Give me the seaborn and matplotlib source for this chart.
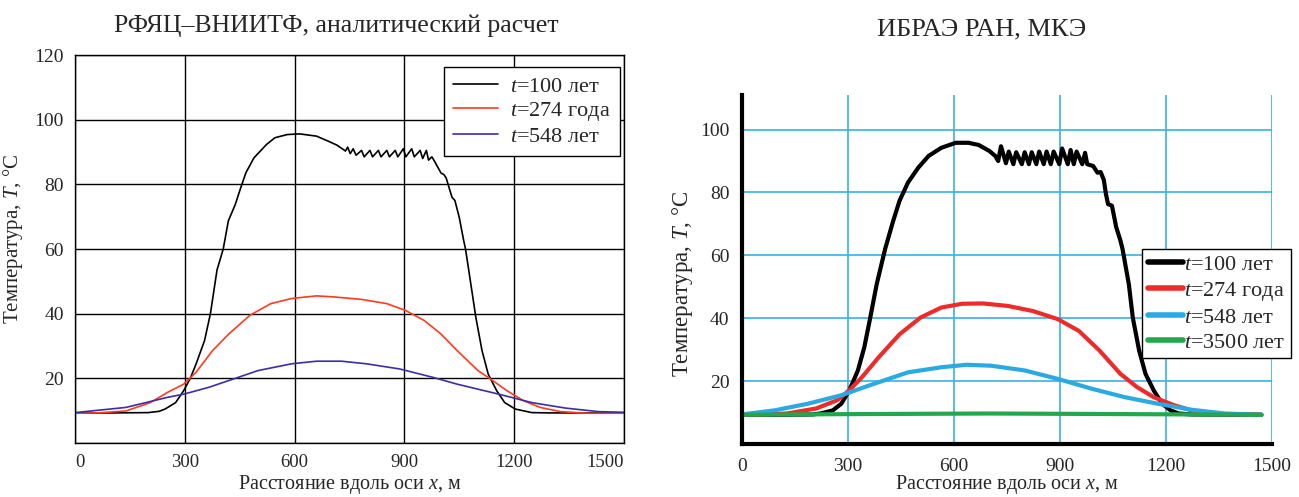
import matplotlib
matplotlib.use('Agg')
import matplotlib.pyplot as plt
import seaborn as sns
import pandas as pd
from matplotlib.ticker import MultipleLocator

sns.set_style('white')
plt.rcParams['font.family'] = ['Liberation Serif', 'DejaVu Serif']
plt.rcParams['mathtext.fontset'] = 'custom'
plt.rcParams['mathtext.rm'] = 'Liberation Serif'
plt.rcParams['mathtext.it'] = 'Liberation Serif:italic'

# ---------------- Left panel data (РФЯЦ–ВНИИТФ) ----------------
left_t100_x = [0, 100, 200, 230, 246, 275, 297, 315, 331, 354, 370, 388, 405, 419, 438, 453, 467, 489,
               523, 546, 580, 614, 660, 693, 716, 739,
               745, 752, 760, 768, 783, 790, 806, 813, 829, 836, 852, 859, 875, 882, 897, 904,
               920, 927, 943, 950, 960, 966, 975, 982,
               1000, 1008, 1014, 1022, 1030, 1038, 1050, 1062, 1067, 1084, 1095, 1112, 1129,
               1152, 1174, 1203, 1248, 1300, 1500]
left_t100_y = [9.3, 9.3, 9.4, 9.8, 10.5, 12.5, 16.2, 20.0, 24.5, 31.7, 40.0, 53.5, 60.0, 68.7, 73.8, 79.0, 83.6, 88.2,
               92.3, 94.4, 95.4, 95.6, 94.9, 93.3, 92.1, 90.3,
               91.5, 89.5, 91.0, 89.0, 90.5, 88.5, 90.5, 88.5, 90.5, 88.5, 90.5, 88.5, 90.5, 88.5, 91.0, 88.5,
               91.0, 88.5, 90.5, 88.0, 90.5, 87.5, 88.5, 87.2,
               83.5, 83.0, 82.0, 79.0, 76.0, 75.0, 69.7, 62.6, 60.0, 47.3, 39.0, 28.6, 21.3,
               16.2, 12.5, 10.5, 9.4, 9.3, 9.3]

left_t274_x = [0, 60, 139, 206, 252, 297, 331, 376, 421, 478, 535, 592, 660, 705, 784, 852, 903, 954,
               999, 1044, 1101, 1135, 1180, 1225, 1271, 1327, 1400, 1500]
left_t274_y = [9.2, 9.3, 9.9, 12.5, 15.6, 18.2, 21.9, 28.6, 33.8, 39.5, 43.1, 44.7, 45.5, 45.2, 44.4, 43.1, 41.0, 37.9,
               33.8, 28.6, 22.4, 19.8, 16.2, 13.1, 11.0, 9.7, 9.2, 9.2]

left_t548_x = [0, 139, 252, 297, 365, 433, 500, 592, 660, 728, 796, 887, 978, 1044, 1158, 1248, 1340, 1431, 1500]
left_t548_y = [9.4, 11.0, 14.1, 15.1, 17.2, 19.8, 22.4, 24.5, 25.3, 25.3, 24.5, 22.9, 20.3, 18.2, 15.1, 12.5, 10.8, 9.7, 9.5]

# ---------------- Right panel data (ИБРАЭ РАН) ----------------
right_t100_x = [0, 100, 200, 222, 257, 281, 304, 328, 346, 363, 381, 405, 428, 446, 470, 499, 528, 564,
                605, 641, 670, 700, 717,
                725, 733, 747, 755, 768, 776, 792, 800, 812, 820, 833, 841, 854, 862, 874, 882,
                898, 906, 922, 930, 939, 947, 963, 971,
                977, 994, 1006, 1015, 1024, 1030, 1036, 1047, 1059, 1071, 1077, 1095, 1106, 1124,
                1142, 1165, 1189, 1213, 1236, 1272, 1470]
right_t100_y = [9.3, 9.3, 9.4, 9.7, 10.7, 12.8, 17.1, 23.4, 30.7, 40.2, 50.7, 62.0, 71.0, 77.4, 83.2, 87.9, 91.6, 94.2,
                95.8, 95.8, 95.1, 93.2, 91.6,
                90.0, 94.7, 89.3, 93.0, 89.0, 92.8, 89.0, 92.8, 89.0, 92.8, 89.0, 93.0, 89.0, 93.0, 89.0, 93.0,
                89.0, 94.0, 89.0, 93.5, 89.0, 93.0, 89.0, 92.6,
                89.0, 88.4, 86.3, 86.5, 84.0, 79.5, 76.3, 75.8, 69.0, 64.7, 62.0, 50.7, 40.2, 29.7,
                22.3, 17.1, 12.8, 10.7, 9.7, 9.4, 9.3]

right_t274_x = [0, 60, 127, 210, 269, 304, 340, 387, 446, 505, 564, 623, 682, 753, 823, 894, 953, 1012,
                1071, 1118, 1165, 1224, 1272, 1331, 1400, 1470]
right_t274_y = [9.4, 9.4, 9.7, 11.3, 13.9, 17.1, 21.3, 27.6, 34.9, 40.2, 43.4, 44.6, 44.7, 43.9, 42.3, 39.7, 36.0, 29.7,
                22.3, 18.1, 14.9, 12.3, 10.7, 9.7, 9.4, 9.3]

right_t548_x = [0, 92, 186, 281, 375, 470, 564, 635, 705, 800, 894, 989, 1083, 1177, 1272, 1366, 1470]
right_t548_y = [9.4, 10.7, 12.8, 15.5, 19.2, 22.8, 24.4, 25.2, 24.9, 23.4, 20.7, 17.6, 14.9, 12.8, 10.9, 9.7, 9.3]

right_t3500_x = [0, 300, 700, 1100, 1470]
right_t3500_y = [9.3, 9.5, 9.7, 9.5, 9.3]

left_labels = ['$t$=100 лет', '$t$=274 года', '$t$=548 лет']
right_labels = ['$t$=100 лет', '$t$=274 года', '$t$=548 лет', '$t$=3500 лет']
x_ticks = [0, 300, 600, 900, 1200, 1500]
left_y_ticks = [0, 20, 40, 60, 80, 100, 120]
right_y_ticks = [0, 20, 40, 60, 80, 100]

left_colors = ['#000000', '#ff3a1f', '#3b2ea6']
right_colors = ['#000000', '#ee2b2b', '#2aa9e2', '#22a84a']

W, H = 1299, 497
fig = plt.figure(figsize=(W / 100, H / 100), dpi=100)
ax1 = fig.add_axes([75 / W, (H - 443) / H, 549 / W, 388 / H])
ax2 = fig.add_axes([742 / W, (H - 444) / H, 530 / W, 349 / H])

FS = 14

# ---- left ----
for xs, ys, lab, c in zip([left_t100_x, left_t274_x, left_t548_x],
                          [left_t100_y, left_t274_y, left_t548_y], left_labels, left_colors):
    sns.lineplot(x=xs, y=ys, ax=ax1, color=c, lw=1.2, label=lab, sort=False, estimator=None)
ax1.set_xlim(0, 1500)
ax1.set_ylim(0, 120)
ax1.set_xticks(x_ticks)
ax1.set_xticklabels([str(v) for v in x_ticks], fontsize=13.5)
ax1.set_yticks(left_y_ticks)
ax1.set_yticklabels([''] + [str(v) for v in left_y_ticks[1:]], fontsize=FS)
ax1.grid(True, color='black', lw=1.0)
for s in ax1.spines.values():
    s.set_color('black')
    s.set_linewidth(1.0)
ax1.tick_params(axis='y', direction='out', length=4, width=1, color='black', pad=4)
ax1.tick_params(axis='x', direction='out', length=4, width=1, color='black', pad=4)
ax1.set_xlabel('Расстояние вдоль оси $x$, м', fontsize=14.5, labelpad=1)
ax1.set_ylabel('Температура, $T$, °C', fontsize=15)
ax1.yaxis.set_label_coords(-50 / 549, 0.526)
tl = ax1.get_xticklabels()
tl[0].set_ha('left')
tl[-1].set_ha('right')
leg1 = ax1.legend(loc='upper right', bbox_to_anchor=((620 - 75) / 549, (443 - 67) / 388), fontsize=16,
                  frameon=True, fancybox=False, edgecolor='black', framealpha=1,
                  handlelength=2.0, handletextpad=0.55, labelspacing=0.15, borderpad=0.42,
                  borderaxespad=0)
leg1.get_frame().set_linewidth(1.0)

# ---- right ----
for xs, ys, lab, c in zip([right_t100_x, right_t274_x, right_t548_x, right_t3500_x],
                          [right_t100_y, right_t274_y, right_t548_y, right_t3500_y], right_labels, right_colors):
    sns.lineplot(x=xs, y=ys, ax=ax2, color=c, lw=3.0, label=lab, sort=False, estimator=None)
ax2.set_xlim(0, 1500)
ax2.set_ylim(0, 111)
ax2.set_xticks(x_ticks)
ax2.set_xticklabels([str(v) for v in x_ticks], fontsize=FS)
ax2.set_yticks(right_y_ticks)
ax2.set_yticklabels([''] + [str(v) for v in right_y_ticks[1:]], fontsize=FS)
ax2.xaxis.set_minor_locator(MultipleLocator(150))
ax2.yaxis.set_minor_locator(MultipleLocator(10))
ax2.grid(True, which='major', color='#35b2e6', lw=1.2)
ax2.set_axisbelow(True)
ax2.spines['top'].set_visible(False)
ax2.spines['right'].set_visible(False)
ax2.spines['left'].set_linewidth(3)
ax2.spines['bottom'].set_linewidth(3)
ax2.spines['left'].set_color('black')
ax2.spines['bottom'].set_color('black')
ax2.tick_params(axis='y', which='major', direction='out', length=5, width=2.5, color='black', pad=4)
ax2.tick_params(axis='x', which='major', direction='out', length=5, width=2.5, color='black', pad=5)
ax2.tick_params(which='minor', direction='in', length=4, width=2, color='black')
ax2.set_xlabel('Расстояние вдоль оси $x$, м', fontsize=14.5, labelpad=-1)
ax2.set_ylabel('Температура, $T$, °C', fontsize=16.5)
ax2.yaxis.set_label_coords(-47 / 530, 0.458)
leg2 = ax2.legend(loc='upper left', bbox_to_anchor=((1142 - 742) / 530, (444 - 249) / 349), fontsize=16,
                  frameon=True, fancybox=False, edgecolor='black', framealpha=1,
                  handlelength=1.6, handletextpad=0.05, labelspacing=0.2, borderpad=0.25,
                  borderaxespad=0)
leg2.get_frame().set_linewidth(1.0)
for ln in leg2.get_lines():
    ln.set_linewidth(4)

fig.text(336 / W, 1 - 26 / H, 'РФЯЦ–ВНИИТФ, аналитический расчет', ha='center', va='center', fontsize=18.5)
fig.text(982 / W, 1 - 29 / H, 'ИБРАЭ РАН, МКЭ', ha='center', va='center', fontsize=19)

fig.savefig('out.png', dpi=100)
